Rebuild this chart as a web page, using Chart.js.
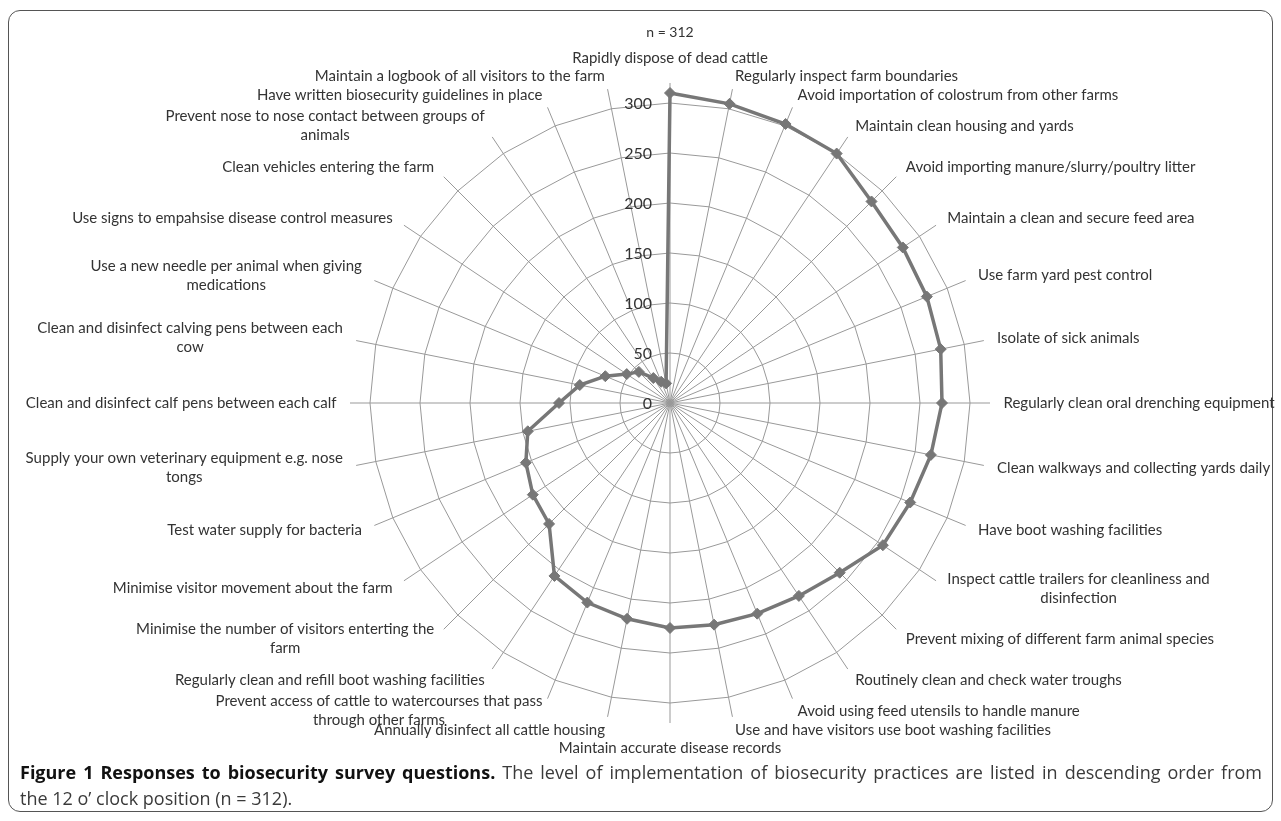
<!DOCTYPE html>
<html>
<head>
<meta charset="utf-8">
<script src="https://cdn.jsdelivr.net/npm/chart.js@4.4.0/dist/chart.umd.min.js"></script>
<style>
  html, body { margin: 0; padding: 0; background: #fff; }
  body { width: 1281px; height: 821px; position: relative; overflow: hidden; font-family: Lato, sans-serif; }
  #frame { position: absolute; left: 8px; top: 10px; width: 1265px; height: 802px; border: 1.5px solid #555; border-radius: 12px; box-sizing: border-box; }
  #chart-box { position: absolute; left: 0; top: 0; width: 1281px; height: 821px; }
  #n-label { position: absolute; left: 570px; width: 200px; top: 23px; text-align: center; font-size: 14px; color: #333; }
  .caption { position: absolute; left: 20px; width: 1242px; font-family: 'Open Sans', sans-serif; font-size: 18px; color: #3a3a3a; line-height: 26px; white-space: nowrap; }
  .caption b { color: #111; }
  #cap1 { top: 759px; text-align: justify; text-align-last: justify; }
  #cap2 { top: 785px; }
</style>
</head>
<body>
<div id="frame"></div>
<div id="chart-box"><canvas id="radarChart"></canvas></div>
<div id="n-label">n = 312</div>
<div class="caption" id="cap1"><b>Figure 1 Responses to biosecurity survey questions.</b> The level of implementation of biosecurity practices are listed in descending order from</div>
<div class="caption" id="cap2">the 12 o’ clock position (n = 312).</div>
<script>
// Survey practices, clockwise from 12 o'clock
const categories = [
    'Rapidly dispose of dead cattle',
    'Regularly inspect farm boundaries',
    'Avoid importation of colostrum from other farms',
    'Maintain clean housing and yards',
    'Avoid importing manure/slurry/poultry litter',
    'Maintain a clean and secure feed area',
    'Use farm yard pest control',
    'Isolate of sick animals',
    'Regularly clean oral drenching equipment',
    'Clean walkways and collecting yards daily',
    'Have boot washing facilities',
    ['Inspect cattle trailers for cleanliness and', 'disinfection'],
    'Prevent mixing of different farm animal species',
    'Routinely clean and check water troughs',
    'Avoid using feed utensils to handle manure',
    'Use and have visitors use boot washing facilities',
    'Maintain accurate disease records',
    'Annually disinfect all cattle housing',
    ['Prevent access of cattle to watercourses that pass', 'through other farms'],
    'Regularly clean and refill boot washing facilities',
    ['Minimise the number of visitors enterting the', 'farm'],
    'Minimise visitor movement about the farm',
    'Test water supply for bacteria',
    ['Supply your own veterinary equipment e.g. nose', 'tongs'],
    'Clean and disinfect calf pens between each calf',
    ['Clean and disinfect calving pens between each', 'cow'],
    ['Use a new needle per animal when giving', 'medications'],
    'Use signs to empahsise disease control measures',
    'Clean vehicles entering the farm',
    ['Prevent nose to nose contact between groups of', 'animals'],
    'Have written biosecurity guidelines in place',
    'Maintain a logbook of all visitors to the farm'
];

// Number of farms implementing each practice
const responses = [
    310, 305, 302, 300, 285, 280, 278, 276, 272, 266, 260, 256, 240, 232, 228, 226,
    225, 220, 216, 208, 171, 165, 156, 145, 111, 92, 70, 52, 44, 30, 23, 20
];

const tickValues = [0, 50, 100, 150, 200, 250, 300];
const axisMax = 320;

const gridGray = '#999999';
const seriesGray = '#777777';

// Excel-style labels: values left of the vertical axis, categories outside the spokes
const excelLabels = {
    id: 'excelLabels',
    afterDraw(chart) {
        const scale = chart.scales.r;
        const ctx = chart.ctx;
        ctx.save();

        ctx.font = '16px Lato';
        ctx.fillStyle = '#333';
        ctx.textAlign = 'right';
        ctx.textBaseline = 'middle';
        tickValues.forEach(v => {
            const y = scale.yCenter - scale.getDistanceFromCenterForValue(v);
            ctx.fillText(String(v), scale.xCenter - 18, y + 1);
        });

        ctx.font = '15px Lato';
        ctx.fillStyle = '#333';
        ctx.textAlign = 'center';
        const lineH = 19;
        categories.forEach((label, i) => {
            const lines = Array.isArray(label) ? label : [label];
            const angle = scale.getIndexAngle(i);
            const s = Math.sin(angle);
            const vertical = Math.abs(s) < 0.01;
            const pos = scale.getPointPosition(i, scale.drawingArea + (vertical ? 25 : 13.5));
            const w = Math.max(...lines.map(t => ctx.measureText(t).width));
            let cx = pos.x;
            if (!vertical) cx = s > 0 ? pos.x + w / 2 : pos.x - w / 2;
            const top = pos.y - (lines.length - 1) * lineH / 2;
            lines.forEach((t, k) => ctx.fillText(t, cx, top + k * lineH));
        });

        ctx.restore();
    }
};

const ctx = document.getElementById('radarChart').getContext('2d');
new Chart(ctx, {
    type: 'radar',
    data: {
        labels: categories,
        datasets: [{
            label: 'Responses',
            data: responses,
            borderColor: seriesGray,
            borderWidth: 3.5,
            backgroundColor: seriesGray,
            fill: false,
            pointStyle: 'rectRot',
            pointRadius: 5.5,
            pointBorderWidth: 1,
            pointBackgroundColor: seriesGray,
            pointBorderColor: seriesGray
        }]
    },
    options: {
        responsive: true,
        maintainAspectRatio: false,
        animation: false,
        devicePixelRatio: 1,
        layout: { padding: { left: 350, top: 83, right: 291, bottom: 98 } },
        plugins: { legend: { display: false }, tooltip: { enabled: false } },
        scales: {
            r: {
                min: 0,
                max: axisMax,
                startAngle: 0,
                ticks: { display: false, stepSize: 50, includeBounds: false },
                grid: { color: gridGray, lineWidth: 1 },
                angleLines: { color: gridGray, lineWidth: 1 },
                pointLabels: { display: false }
            }
        }
    },
    plugins: [excelLabels]
});
</script>
</body>
</html>
